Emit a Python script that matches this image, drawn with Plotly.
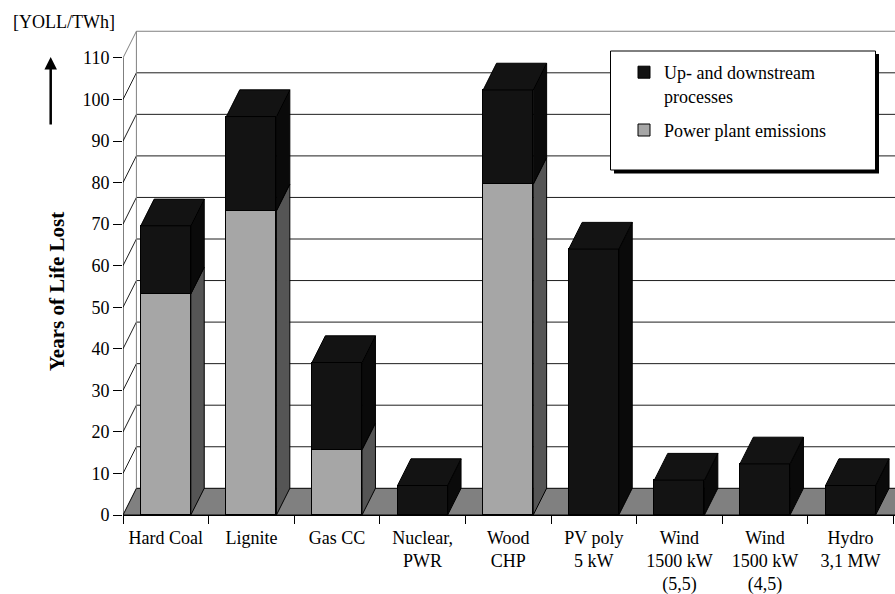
import plotly.graph_objects as go

# Years of life lost per TWh, split into plant emissions and up-/downstream processes
categories = ["Hard Coal", "Lignite", "Gas CC", "Nuclear,<br>PWR", "Wood<br>CHP",
              "PV poly<br>5 kW", "Wind<br>1500 kW<br>(5,5)", "Wind<br>1500 kW<br>(4,5)",
              "Hydro<br>3,1 MW"]
power_plant = [53.2, 73.2, 15.7, 0, 79.6, 0, 0, 0, 0]
up_downstream = [16.4, 22.7, 21.0, 7.1, 22.7, 64.0, 8.4, 12.3, 7.1]
y_ticks = list(range(0, 111, 10))

FONT = "Liberation Serif"
BLACK_FRONT, BLACK_SIDE = "#131313", "#0a0a0a"
GREY_FRONT, GREY_SIDE = "#a6a6a6", "#555555"
FLOOR = "#808080"

# page geometry (pixels)
WIDTH, HEIGHT = 895, 594
L, T = 123, 10
PLOT_BOTTOM = 515
W, H = WIDTH - L, PLOT_BOTTOM - T
PX_PER_CAT, PX_PER_UNIT = 85.6, 4.155
XMAX, YMAX = W / PX_PER_CAT, H / PX_PER_UNIT
DX, DY = 13.4 / PX_PER_CAT, 26.7 / PX_PER_UNIT   # depth offset of the 3-D box
BAR_W = 0.585


def px_x(p):
    return (p - L) / W


def px_y(p):
    return (PLOT_BOTTOM - p) / H


n = len(categories)
centers = [i + 0.5 for i in range(n)]

fig = go.Figure()

# front faces of the stacked columns
fig.add_trace(go.Bar(x=centers, y=power_plant, width=BAR_W, name="Power plant emissions",
                     legendgroup="plant", legendrank=2,
                     marker=dict(color=GREY_FRONT, line=dict(color="black", width=1)),
                     hoverinfo="skip"))
fig.add_trace(go.Bar(x=centers, y=up_downstream, width=BAR_W,
                     name="Up- and downstream<br>processes", legendgroup="chain",
                     legendrank=1,
                     marker=dict(color=BLACK_FRONT, line=dict(color="black", width=1)),
                     hoverinfo="skip"))


def poly_trace(polys, color):
    xs, ys = [], []
    for p in polys:
        xs += [q[0] for q in p] + [p[0][0], None]
        ys += [q[1] for q in p] + [p[0][1], None]
    return go.Scatter(x=xs, y=ys, mode="lines", fill="toself", fillcolor=color,
                      line=dict(color="black", width=1), showlegend=False,
                      hoverinfo="skip")


grey_sides, black_sides, tops = [], [], []
for c, p, u in zip(centers, power_plant, up_downstream):
    xl, xr = c - BAR_W / 2, c + BAR_W / 2
    top = p + u
    if p > 0:
        grey_sides.append([(xr, 0), (xr + DX, DY), (xr + DX, p + DY), (xr, p)])
    if u > 0:
        black_sides.append([(xr, p), (xr + DX, p + DY), (xr + DX, top + DY), (xr, top)])
    tops.append([(xl, top), (xl + DX, top + DY), (xr + DX, top + DY), (xr, top)])

fig.add_trace(poly_trace(grey_sides, GREY_SIDE))
fig.add_trace(poly_trace(black_sides, BLACK_SIDE))
fig.add_trace(poly_trace(tops, BLACK_FRONT))

shapes = []
# floor
shapes.append(dict(type="path", xref="x", yref="y", layer="below",
                   path=f"M0,0 L{XMAX + 1},0 L{XMAX + 1},{DY} L{DX},{DY} Z",
                   fillcolor=FLOOR, line=dict(color="black", width=1)))
# back wall gridlines and side wall diagonals
for v in y_ticks[1:]:
    col = "#808080" if v == y_ticks[-1] else "#1e1e1e"
    shapes.append(dict(type="line", xref="x", yref="y", layer="below",
                       x0=DX, y0=v + DY, x1=XMAX + 1, y1=v + DY,
                       line=dict(color=col, width=1)))
    shapes.append(dict(type="line", xref="x", yref="y", layer="below",
                       x0=0, y0=v, x1=DX, y1=v + DY, line=dict(color=col, width=1)))
shapes.append(dict(type="line", xref="x", yref="y", layer="below",
                   x0=DX, y0=DY, x1=DX, y1=y_ticks[-1] + DY,
                   line=dict(color="#808080", width=1)))
# front value axis
shapes.append(dict(type="line", xref="x", yref="y", layer="above",
                   x0=0, y0=0, x1=0, y1=y_ticks[-1], line=dict(color="black", width=1)))
# legend frame with drop shadow
shapes.append(dict(type="rect", xref="paper", yref="paper", layer="above",
                   x0=px_x(614), y0=px_y(54), x1=px_x(879), y1=px_y(173.5),
                   fillcolor="black", line=dict(width=0)))
shapes.append(dict(type="rect", xref="paper", yref="paper", layer="above",
                   x0=px_x(610.5), y0=px_y(51), x1=px_x(875.5), y1=px_y(170),
                   fillcolor="white", line=dict(color="black", width=1)))

annotations = [
    dict(text="[YOLL/TWh]", xref="paper", yref="paper", x=px_x(11), y=px_y(22),
         xanchor="left", yanchor="middle", showarrow=False,
         font=dict(family=FONT, size=18, color="black")),
    dict(text="<b>Years of Life Lost</b>", xref="paper", yref="paper",
         x=px_x(57), y=px_y(292), textangle=-90, xanchor="center", yanchor="middle",
         showarrow=False, font=dict(family=FONT, size=21, color="black")),
    dict(text="", xref="paper", yref="paper", x=px_x(50.7), y=px_y(57),
         showarrow=True, ax=0, ay=69, arrowhead=2, arrowsize=1, arrowwidth=2.5,
         arrowcolor="black"),
]

fig.update_layout(
    width=WIDTH, height=HEIGHT,
    margin=dict(l=L, r=0, t=T, b=HEIGHT - PLOT_BOTTOM, autoexpand=False),
    paper_bgcolor="white", plot_bgcolor="white",
    barmode="stack", bargap=0,
    font=dict(family=FONT, size=18, color="black"),
    xaxis=dict(range=[0, XMAX], tickvals=centers, ticktext=categories, ticks="",
               showgrid=False, zeroline=False, showline=True, linecolor="black",
               linewidth=1, ticklabelstandoff=6,
               minor=dict(tickmode="array", tickvals=list(range(n + 1)), ticks="outside",
                          ticklen=8, tickcolor="black", showgrid=False),
               tickfont=dict(family=FONT, size=18, color="black"), automargin=False),
    yaxis=dict(range=[0, YMAX], tickvals=y_ticks, ticks="outside", ticklen=9,
               tickcolor="black", showgrid=False, zeroline=False, showline=False,
               tickfont=dict(family=FONT, size=18, color="black"), automargin=False),
    legend=dict(x=px_x(624), y=px_y(54), xanchor="left", yanchor="top",
                bgcolor="rgba(0,0,0,0)", borderwidth=0, traceorder="grouped",
                tracegroupgap=8, valign="top",
                font=dict(family=FONT, size=18, color="black")),
    shapes=shapes, annotations=annotations,
)

fig.write_html("out.html")
